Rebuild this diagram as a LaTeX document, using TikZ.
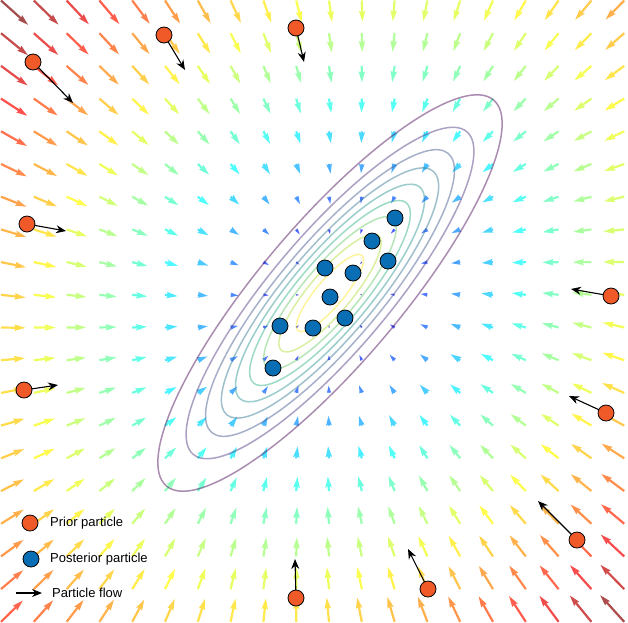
\documentclass[tikz,border=0pt]{standalone}
\usepackage{fontspec}
\setmainfont{Liberation Sans}
\usetikzlibrary{arrows.meta}
\definecolor{priorc}{HTML}{F05A28}
\definecolor{postc}{HTML}{0A6EB4}
\definecolor{vir0}{HTML}{440154}
\definecolor{vir1}{HTML}{472D7B}
\definecolor{vir2}{HTML}{3B528B}
\definecolor{vir3}{HTML}{2C728E}
\definecolor{vir4}{HTML}{21918C}
\definecolor{vir5}{HTML}{28AE80}
\definecolor{vir6}{HTML}{5EC962}
\definecolor{vir7}{HTML}{ADDC30}
\definecolor{vir8}{HTML}{FDE725}
\begin{document}
\begin{tikzpicture}[x=1pt,y=-1pt,
  priorpt/.style={circle,draw=black,line width=0.8pt,fill=priorc,minimum size=16pt,inner sep=0pt},
  postpt/.style={circle,draw=black,line width=0.8pt,fill=postc,minimum size=16pt,inner sep=0pt},
  flowarrow/.style={draw=black,line width=1.1pt,-{Stealth[length=10pt,width=8pt]}},
  contour/.style={line width=1.5pt,draw opacity=0.45},
  legtext/.style={anchor=west,inner sep=0pt,font=\fontsize{13}{15}\selectfont}]
\useasboundingbox (0,0) rectangle (628,622);
\fill[white] (0,0) rectangle (628,622);
\clip (0,0) rectangle (628,622);
% vector field
\foreach \i in {0,...,19}{
 \foreach \j in {0,...,19}{
  \pgfmathsetmacro{\qpx}{1+32.8*\i}
  \pgfmathsetmacro{\qpy}{0.5+32.7*\j}
  \pgfmathsetmacro{\qdx}{(\qpx-336)/100}
  \pgfmathsetmacro{\qdy}{(\qpy-293)/100}
  \pgfmathsetmacro{\qvx}{-(\qdx+0.117*\qdy)}
  \pgfmathsetmacro{\qvy}{-(0.117*\qdx+\qdy)}
  \pgfmathsetmacro{\qm}{sqrt(\qvx*\qvx+\qvy*\qvy)+0.0001}
  \pgfmathsetmacro{\qL}{7.33*\qm}
  \pgfmathsetmacro{\qs}{min(1,\qL/11)}
  \pgfmathsetmacro{\qang}{atan2(-\qvy,\qvx)}
  \pgfmathsetmacro{\qcv}{min(1,\qm/4.93)}
  \pgfmathsetmacro{\qr}{max(0,min(1,1.5-abs(4*\qcv-3)))}
  \pgfmathsetmacro{\qg}{max(0,min(1,1.5-abs(4*\qcv-2)))}
  \pgfmathsetmacro{\qb}{max(0,min(1,1.5-abs(4*\qcv-1)))}
  \definecolor{qcol}{rgb}{\qr,\qg,\qb}
  \fill[qcol,fill opacity=0.7,shift={(\qpx,\qpy)},rotate=\qang]
    (0,{1.1*\qs}) -- ({\qL-9.9*\qs},{1.1*\qs}) -- ({\qL-11*\qs},{3.3*\qs})
    -- (\qL,0) -- ({\qL-11*\qs},{-3.3*\qs}) -- ({\qL-9.9*\qs},{-1.1*\qs})
    -- (0,{-1.1*\qs}) -- cycle;
 }}
% contours
\begin{scope}[shift={(330,293)},rotate=49.7]
\draw[contour,vir0] (0,0) ellipse [x radius=253, y radius=70];
\draw[contour,vir1] (0,0) ellipse [x radius=253*0.836, y radius=70*0.836];
\draw[contour,vir2] (0,0) ellipse [x radius=253*0.723, y radius=70*0.723];
\draw[contour,vir3] (0,0) ellipse [x radius=253*0.631, y radius=70*0.631];
\draw[contour,vir4] (0,0) ellipse [x radius=253*0.549, y radius=70*0.549];
\draw[contour,vir5] (0,0) ellipse [x radius=253*0.467, y radius=70*0.467];
\draw[contour,vir6] (0,0) ellipse [x radius=253*0.385, y radius=70*0.385];
\draw[contour,vir7] (0,0) ellipse [x radius=253*0.297, y radius=70*0.297];
\draw[contour,vir8] (0,0) ellipse [x radius=253*0.195, y radius=70*0.195];
\end{scope}
% prior particles and flows
\foreach \k/\ax/\ay/\bx/\by in {1/33/62/73/103, 2/164/35/185/70, 3/296/28/304/62,
  4/27/224/66/231, 5/24/390/58/385, 6/611/296/571/289, 7/606/413/569/396,
  8/577/540/538/501, 9/428/589/408/549, 10/296/598/295/559}{
  \coordinate (pp\k) at (\ax,\ay);
  \coordinate (pt\k) at (\bx,\by);
  \draw[flowarrow] (pp\k) -- (pt\k);
  \node[priorpt] (prior\k) at (pp\k) {};
}
% posterior particles
\foreach \k/\ax/\ay in {1/395/218, 2/372/241, 3/388/261, 4/325/268, 5/353/273,
  6/330/297, 7/345/318, 8/280/326, 9/313/328, 10/273/368}{
  \node[postpt] (post\k) at (\ax,\ay) {};
}
% legend
\node[priorpt] (legprior) at (30,523) {};
\node[legtext] (legpriort) at (50,523) {Prior particle};
\node[postpt] (legpost) at (31,559) {};
\node[legtext] (legpostt) at (50,559) {Posterior particle};
\coordinate (legfa) at (16,593);
\coordinate (legfb) at (42,593);
\draw[flowarrow] (legfa) -- (legfb);
\node[legtext] (legflowt) at (52,593) {Particle flow};
\end{tikzpicture}
\end{document}
